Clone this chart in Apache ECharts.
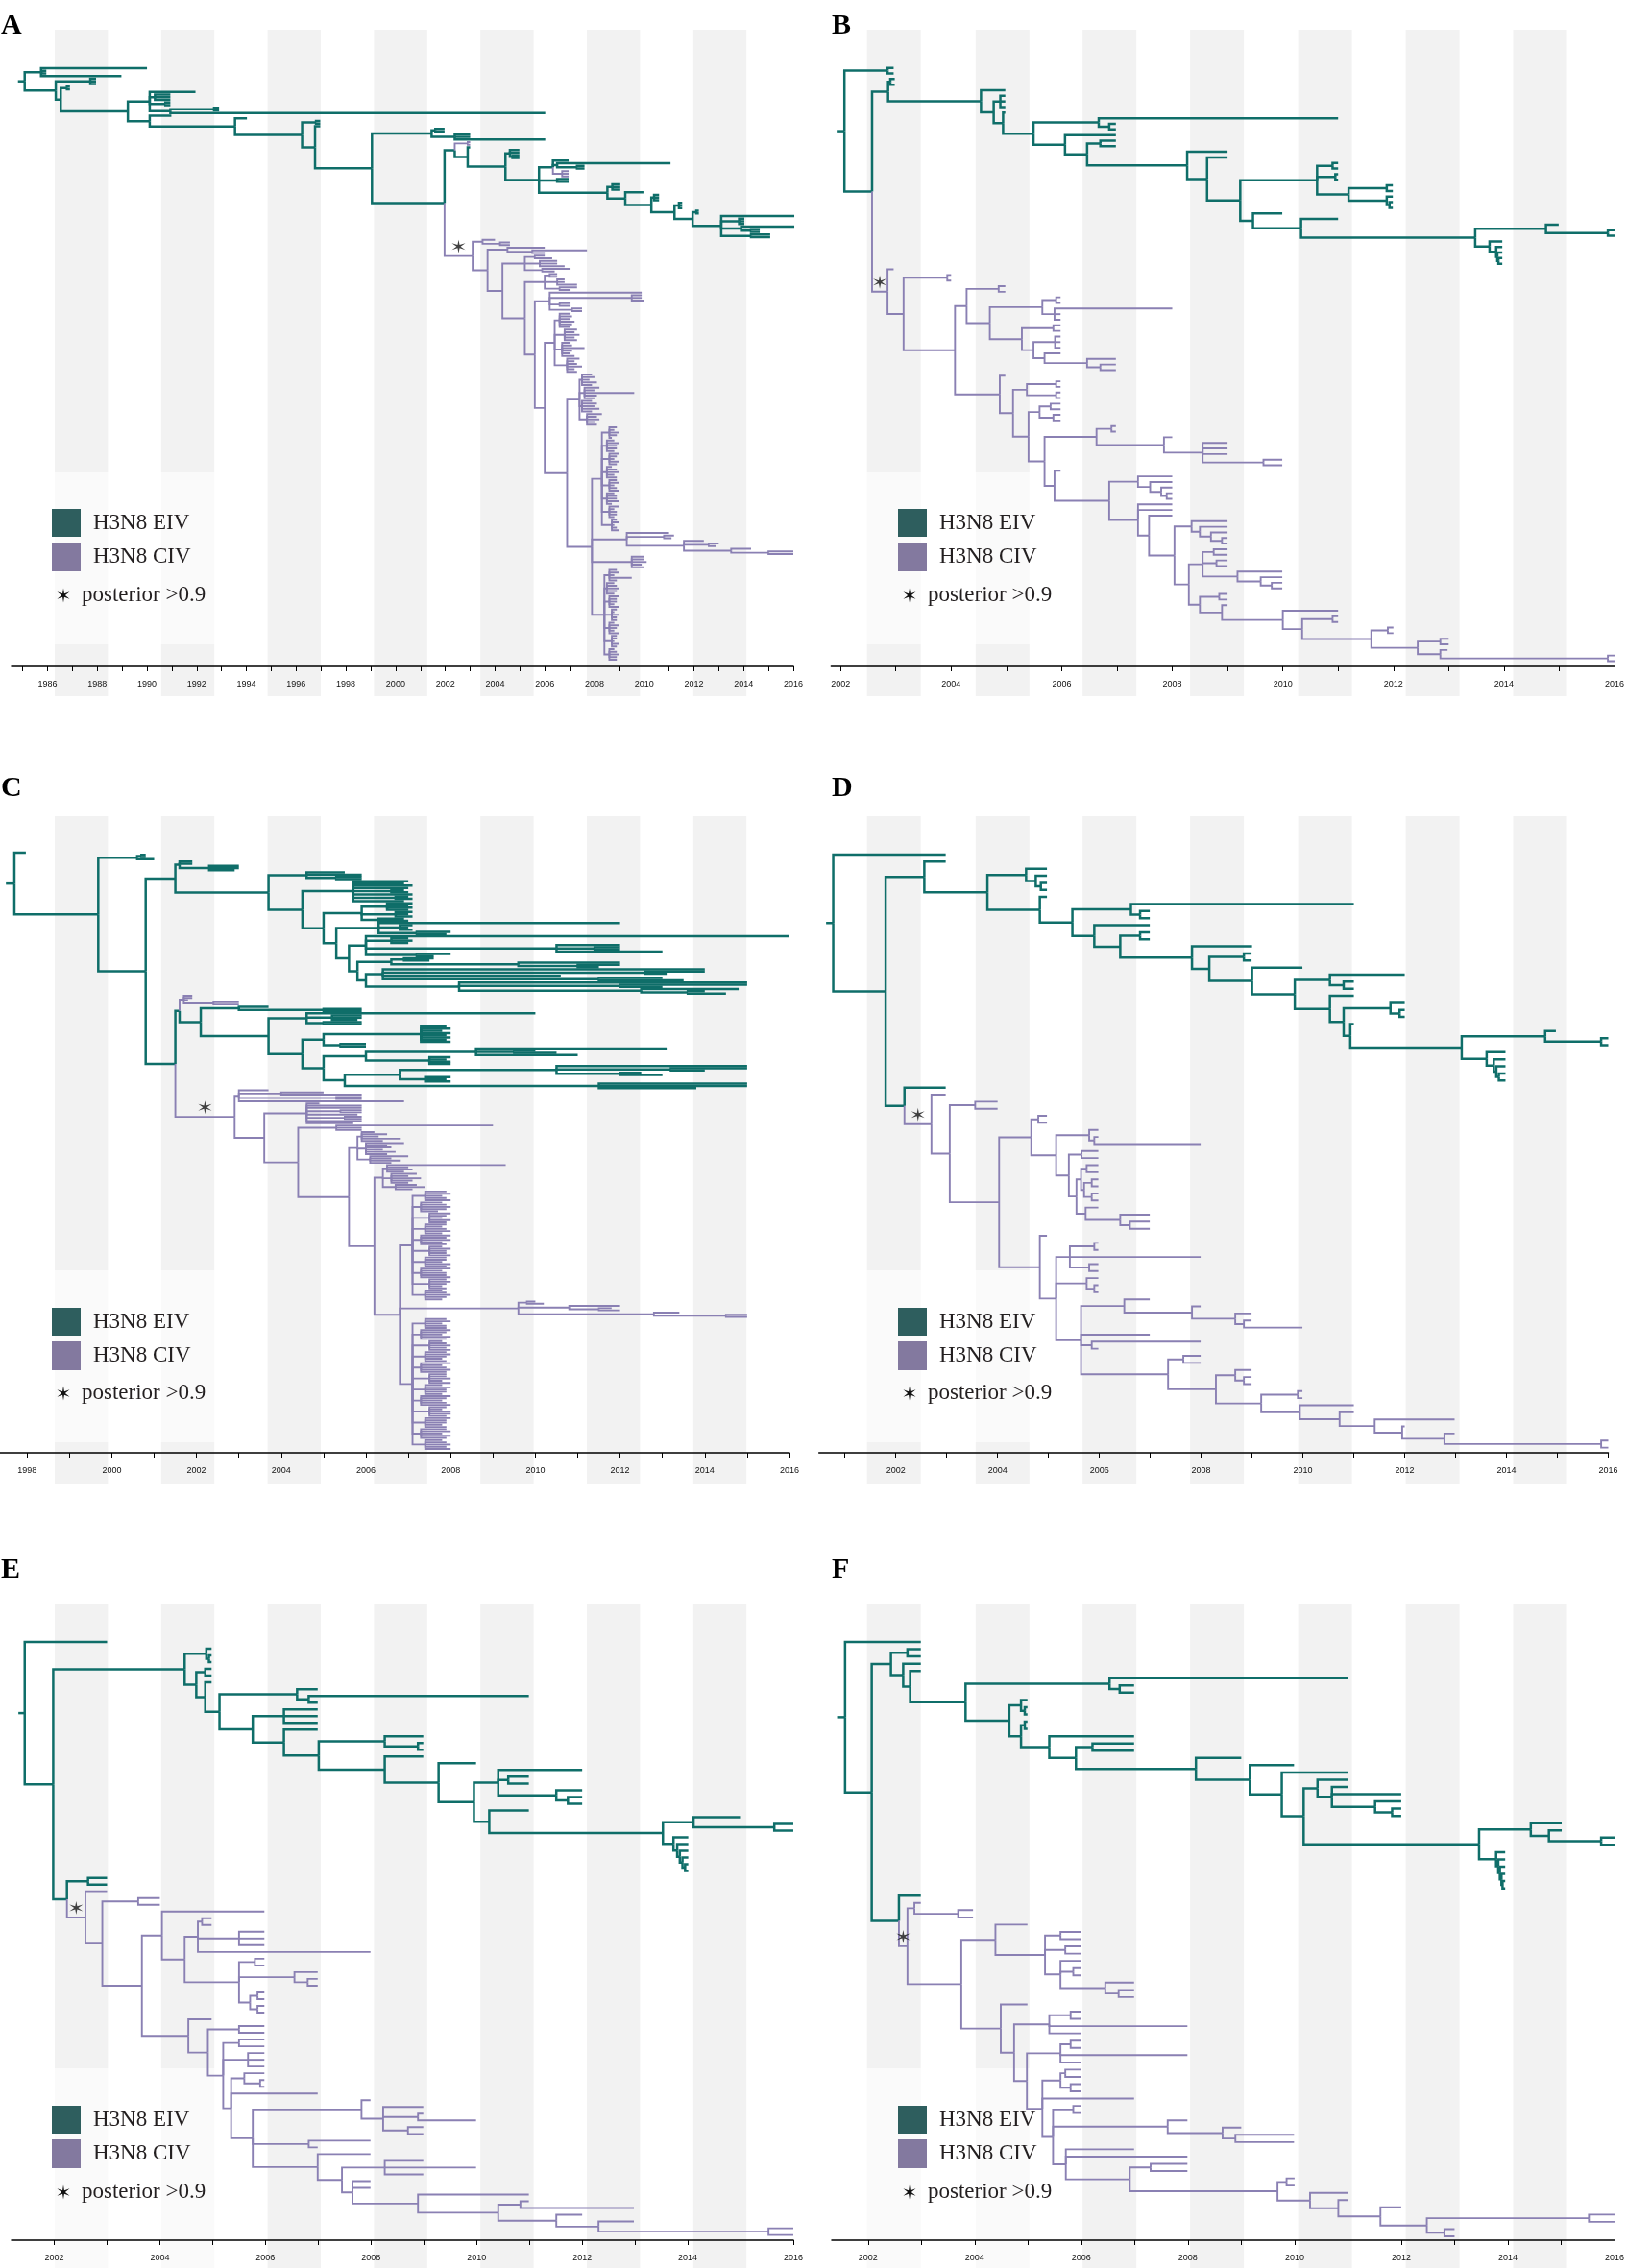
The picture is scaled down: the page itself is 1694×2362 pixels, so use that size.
<!DOCTYPE html>
<html><head><meta charset="utf-8">
<script src="https://cdn.jsdelivr.net/npm/echarts@6.0.0/dist/echarts.min.js"></script>
<style>
html,body{margin:0;padding:0;background:#fff}
body{width:1694px;height:2362px;position:relative;overflow:hidden}
.pn{position:absolute;overflow:hidden}
</style></head><body>
<div id="pA" class="pn"></div><div id="pB" class="pn"></div>
<div id="pC" class="pn"></div><div id="pD" class="pn"></div>
<div id="pE" class="pn"></div><div id="pF" class="pn"></div>
<script>
// ---------------- DATA ----------------
// Trees: "(children)date" = internal node with its date (decimal year); bare number = tip date.
// prefix "c" = H3N8 CIV lineage from that branch on; suffix "*" = posterior > 0.9 on that branch.
const PANEL_LETTERS = ['A','B','C','D','E','F'];
const LEGEND_LABELS = ['H3N8 EIV','H3N8 CIV'];
const STAR_LABEL = 'posterior >0.9';
const ROOT_START = {A:1984.81, B:2001.93, C:1997.5, D:2000.63, E:2001.32, F:2001.42};

const TICKS_A = [1985,1986,1987,1988,1989,1990,1991,1992,1993,1994,1995,1996,1997,1998,1999,2000,2001,2002,2003,2004,2005,2006,2007,2008,2009,2010,2011,2012,2013,2014,2015,2016];
const LABELS_A = [1986,1988,1990,1992,1994,1996,1998,2000,2002,2004,2006,2008,2010,2012,2014,2016];
const TICKS_B = [2002,2003,2004,2005,2006,2007,2008,2009,2010,2011,2012,2013,2014,2015,2016];
const LABELS_B = [2002,2004,2006,2008,2010,2012,2014,2016];
const TICKS_C = [1998,1999,2000,2001,2002,2003,2004,2005,2006,2007,2008,2009,2010,2011,2012,2013,2014,2015,2016];
const LABELS_C = [1998,2000,2002,2004,2006,2008,2010,2012,2014,2016];
const TICKS_D = [2001,2002,2003,2004,2005,2006,2007,2008,2009,2010,2011,2012,2013,2014,2015,2016];
const LABELS_D = [2002,2004,2006,2008,2010,2012,2014,2016];
const TICKS_E = [2002,2003,2004,2005,2006,2007,2008,2009,2010,2011,2012,2013,2014,2015,2016];
const LABELS_E = [2002,2004,2006,2008,2010,2012,2014,2016];
const TICKS_F = [2002,2003,2004,2005,2006,2007,2008,2009,2010,2011,2012,2013,2014,2015,2016];
const LABELS_F = [2002,2004,2006,2008,2010,2012,2014,2016];

const BIG1_A = `(2008.9,2008.8,2009.0,2008.9,2008.7)2008.6,(2008.8,2009.0,2008.9,2008.9,2008.8)2008.5,
(2009.0,2008.9,2008.8,2009.0,2008.9)2008.6,(2008.7,2008.9,2009.0,2008.8,2008.9)2008.5,
(2008.9,2009.0,2008.8,2008.9,2009.0)2008.6,(2008.8,2008.9,2008.9,2009.0,2008.7)2008.5,
(2009.0,2008.8,2008.9,2008.9,2008.8)2008.6,(2008.9,2009.0,2008.8,2008.9,2009.0)2008.7`;
const BIG2_A = `(2008.9,2009.0,2008.8,2009.5,2008.9)2008.6,(2008.8,2008.9,2009.0,2008.9,2008.8)2008.5,
(2009.0,2008.9,2008.9,2008.8,2009.0)2008.6,(2008.9,2008.8,2009.0,2008.9,2008.9)2008.7,
(2008.8,2009.0,2008.9,2008.8,2009.0)2008.6,(2008.9,2008.9,2008.8,2009.0,2008.9)2008.7,
(2008.8,2008.9,2009.0,2008.9,2008.9)2008.6`;
const BLOCK1_A = `(2007.0,2007.1,2007.0,2007.2,2007.1,2007.0)2006.6,(2007.3,2007.2,2007.4,2007.2,2007.3)2006.8,
(2007.0,2007.1,2007.6,2007.1,2007.0,2007.2)2006.7,(2007.4,2007.2,2007.3,2007.5,2007.2,2007.3)2006.9`;
const BLOCK2_A = `(2007.9,2008.0,2007.8,2008.1,2007.9)2007.5,(2008.2,2008.0,2009.6,2008.1,2008.0)2007.6,
(2007.9,2008.1,2008.0,2008.2,2007.9)2007.5,(2008.3,2008.1,2008.2,2008.0,2008.1)2007.7`;

const CIV_A = `c(
 (2004.0,(2004.6,2004.6)2004.2)2003.5,
 (
  (2006.0,(2007.7,2006.0)2005.5)2004.5,
  (
   ((2006.0,2006.3)2005.6,(2006.5,2006.5,2006.8)2005.8,(2007.0,2006.4)2005.9)2005.2,
   (
    ((2006.5,2006.5)2006.2,(2006.8,2006.8,2007.3)2006.5,(2007.3,2007.0)2006.6)2006.0,
    (
     (2009.9,(2009.9,2009.9,2010.0)2009.5,(2007.0,2007.0)2006.6,(2007.5,2007.5)2007.1)2006.2,
     (
      (${BLOCK1_A})2006.4,
      (
       (${BLOCK2_A})2007.4,
       (
        (${BIG1_A})2008.3,
        (2011.0,(2011.2,2011.1)2010.8,(2012.4,(2013.0,2012.9)2012.6,(2014.3,(2016.0,2016.0)2015.0)2013.5)2011.6)2009.3,
        (2010.0,2010.0,2010.1,2009.9,2010.0)2009.5,
        (${BIG2_A})2008.4
       )2007.9
      )2006.9
     )2006.0
    )2005.6
   )2005.2
  )2004.3
 )2003.7
)2003.1*`;

const TREE_A = `(
 (1990.0,(1985.95,1985.95)1985.8,1988.97)1985.74,
 (
  (1987.95,1987.95,1987.95)1987.72,
  (
   (1986.9,1986.9)1986.78,
   (
    (1991.95,(1990.94,1990.94,1990.94)1990.32,(1990.94,1990.94)1990.74,((1992.9,1992.9)1992.7,2006.02)1990.94)1990.11,
    (
     1990.98,
     (
      1994.02,
      (
       (1996.97,1996.97)1996.8,
       (
        1996.97,
        (
         ((2001.97,2001.97)2001.6,(2003.0,2003.0,2006.02)2002.38)2001.45,
         (
          (
           c(2003.0,2003.0)2002.9,
           (
            2003.0,
            (
             (2004.98,2004.98,(2004.98,2004.98)2004.7)2004.6,
             (
              (2006.96,(2011.06,(2007.6,2007.6)2007.3)2006.5,c(2006.96,2006.96,2006.96)2006.7)2006.33,
              (2006.96,2006.96)2006.5,
              (
               (2009.04,2009.04,2009.04)2008.72,
               (
                2009.97,
                (
                 (2010.6,2010.6,2010.6)2010.4,
                 (
                  (2011.53,2011.53,2011.53)2011.4,
                  (
                   (2012.2,2012.2)2012.1,
                   (2016.04,(2014.03,2014.03,2014.03)2013.82,(2016.04,(2014.65,2014.65)2014.3)2013.9,(2015.07,2015.07)2014.3)2013.1
                  )2011.95
                 )2011.22
                )2010.29
               )2009.24
              )2008.52
             )2005.77
            )2004.42
           )2002.9
          )2002.38,
          ${CIV_A}
         )2001.97
        )1999.05
       )1996.76
      )1996.24
     )1993.54
    )1990.11
   )1989.23
  )1986.53
 )1986.33
)1985.08`;

const TREE_B = `(
 (2002.96,2002.96)2002.85,
 (
  (
   (2002.98,2002.98)2002.9,
   (
    2004.98,
    (
     (2004.98,2004.98,2004.98)2004.89,
     (
      2004.98,
      (
       (2011.0,(2006.98,2006.98)2006.86)2006.67,
       (
        2006.98,
        (
         (2006.98,2006.98)2006.7,
         (
          2009.0,
          (
           2009.0,
           (
            (
             (2011.0,2011.0)2010.9,
             (2011.0,2011.0)2010.95,
             ((2011.99,2011.99)2011.88,(2011.99,(2011.99,2011.99)2011.93)2011.88)2011.19
            )2010.62,
            (
             2009.99,
             (
              2011.0,
              (
               (2014.99,(2016.0,2016.0)2015.88)2014.76,
               (2013.97,(2013.97,(2013.97,(2013.97,2013.97)2013.9)2013.88)2013.86)2013.74
              )2013.48
             )2010.33
            )2009.46
           )2009.23
          )2008.63
         )2008.27
        )2006.46
       )2006.06
      )2005.49
     )2004.94
    )2004.77
   )2004.54
  )2002.86,
  c(
   2002.96,
   (
    (2004.0,2004.0)2003.93,
    (
     (
      (2004.98,2004.98)2004.86,
      (
       ((2005.98,2005.98)2005.9,(2008.0,2005.98,2005.98)2005.87)2005.65,
       (
        (2005.98,2005.98)2005.85,
        ((2005.98,2005.98,2005.98)2005.88,(2005.98,(2006.98,(2006.98,2006.98)2006.7)2006.46)2005.69)2005.49
       )2005.28
      )2004.7
     )2004.28,
     (
      2004.98,
      (
       ((2005.98,2005.98)2005.9,(2005.98,2005.98)2005.9)2005.37,
       (
        ((2005.98,2005.98)2005.8,(2005.98,2005.98)2005.85)2005.6,
        (
         ((2006.98,2006.98)2006.9,(2008.0,(2009.0,2009.0,2009.0,(2009.99,2009.99)2009.65)2008.55)2007.85)2006.63,
         (
          2005.98,
          (
           (2008.0,(2008.0,(2008.0,(2008.0,2008.0)2007.9)2007.8)2007.6)2007.38,
           (
            2008.0,
            2008.0,
            (
             2008.0,
             (
              (2009.0,(2009.0,(2009.0,(2009.0,2009.0)2008.9)2008.7)2008.5)2008.35,
              (
               ((2009.0,2009.0)2008.75,(2009.0,2009.0)2008.8,(2009.99,(2009.99,(2009.99,2009.99)2009.8)2009.6)2009.18)2008.55,
               (
                (2009.0,2009.0)2008.85,
                (
                 2009.0,
                 (
                  2011.0,
                  (
                   (2011.0,2011.0)2010.9,
                   (
                    (2012.0,2012.0)2011.9,
                    ((2013.0,2013.0)2012.85,(2012.98,(2016.0,2016.0)2015.88)2012.85)2012.44
                   )2011.6
                  )2010.35
                 )2010.0
                )2008.9
               )2008.5
              )2008.3
             )2008.04
            )2007.58
           )2007.38
          )2006.86
         )2005.87
        )2005.69
       )2005.4
      )2005.12
     )2004.88
    )2004.07
   )2003.14
  )2002.85*
 )2002.57
)2002.07`;

const BIGC1 = `(2007.9,2008.0,2007.8,2007.9,2008.0)2007.4,(2007.8,2007.9,2008.0,2007.9,2007.7)2007.3,
(2008.0,2007.9,2007.8,2008.0,2007.9)2007.5,(2007.9,2007.8,2007.9,2008.0,2007.8)2007.4,
(2008.0,2007.9,2008.0,2007.8,2007.9)2007.3,(2007.8,2008.0,2007.9,2007.9,2008.0)2007.5,
(2007.9,2007.9,2007.8,2008.0,2007.9)2007.4,(2008.0,2007.8,2007.9,2007.9,2008.0)2007.3,
(2007.9,2008.0,2007.9,2007.8,2007.9)2007.5,(2007.8,2007.9,2008.0,2007.9,2007.8)2007.4`;
const BIGC2 = `(2007.9,2008.0,2007.8,2007.9,2007.9)2007.4,(2008.0,2007.9,2007.8,2008.0,2007.9)2007.3,
(2007.8,2007.9,2008.0,2007.9,2008.0)2007.5,(2007.9,2008.0,2007.9,2007.8,2007.9)2007.4,
(2008.0,2007.8,2007.9,2008.0,2007.9)2007.3,(2007.9,2007.9,2008.0,2007.8,2008.0)2007.5,
(2007.8,2008.0,2007.9,2007.9,2007.8)2007.4,(2008.0,2007.9,2007.8,2007.9,2008.0)2007.3,
(2007.9,2007.8,2008.0,2008.0,2007.9)2007.5,(2008.0,2007.9,2007.9,2007.8,2007.9)2007.4,
(2007.9,2008.0,2007.8,2008.0,2007.9)2007.3,(2007.8,2007.9,2008.0,2007.9,2008.0)2007.4`;

const CIV_C = `c(
 (2003.7,(2005.0,2005.9)2004.0,(2005.9,2005.9)2005.3,2006.9)2003.0,
 (
  (2004.9,2005.9,2005.9,(2005.9,2005.9)2005.4,2005.8,(2005.9,2005.9)2005.5,2005.9,2005.7)2004.6,
  (
   (2009.0,2005.9,2005.9)2005.3,
   (
    ((2006.2,2006.5,2006.3,2006.8,2006.4)2005.9,(2006.9,2006.5,2006.6,2006.4,2006.7,2006.5)2006.0,(2007.0,2006.6,2006.8,2006.6)2006.1)2005.8,
    (
     ((2009.3,2007.0,2007.1,2006.9)2006.5,(2007.2,2007.0,2007.3,2007.1,2007.0)2006.6,(2007.2,2007.4,2007.1)2006.7)2006.4,
     (
      (${BIGC1})2007.1,
      ((2010.0,2010.2)2009.8,(2012.0,(2011.8,2012.0)2011.5)2010.8,(2013.4,(2015.0,2015.0)2014.5)2012.8)2009.6,
      (${BIGC2})2007.1
     )2006.8
    )2006.2
   )2005.6
  )2004.4
 )2003.6
)2002.9*`;

const TREE_C = `(
 1997.97,
 (
  ((2000.8,2000.8)2000.7,2001.0)2000.6,
  (
   (
    (2001.9,2001.9,(2003.0,2003.0,2002.9)2002.3)2001.6,
    (
     (2005.5,2005.9,(2005.9,2005.9)2005.3)2004.6,
     (
      (2007.0,2006.9,2007.1,2007.0,(2006.9,2007.0)2006.6,2007.1,(2007.0,2007.1)2006.7,2006.9)2005.7,
      (
       ((2007.1,2007.0,2007.1,2007.0)2006.5,(2007.1,2007.0,2007.1)2006.7,(2006.9,2007.0)2006.3)2005.9,
       (
        (2012.0,(2007.1,2007.0,2007.1)2006.8,(2008.0,2007.9)2007.2)2006.3,
        (
         (2016.0,(2007.0,2007.1,2007.0)2006.6,(2012.0,(2012.0,2012.0)2011.4,2013.0)2010.5,(2008.0,2007.6)2007.2)2006.0,
         (
          ((2007.6,2007.5)2006.9,(2012.0,(2012.0,2011.5)2011.0)2009.6)2006.6,
          (
           (2014.0,(2014.0,2013.1)2012.6,2010.6,(2013.0,2013.5)2011.5)2006.4,
           (2015.0,(2015.0,2013.0)2012.0,(2014.8,(2014.0,2014.5)2013.6)2012.5)2008.2
          )2006.0
         )2005.8
        )2005.6
       )2005.3
      )2005.0
     )2004.5
    )2003.7
   )2001.5,
   (
    (
     c(2001.9,2001.9,2001.8,(2003.0,2003.0)2002.4)2001.7,
     (
      (2003.7,(2005.9,2005.9)2005.0)2003.0,
      (
       (2010.0,(2005.9,2005.9,2005.8)2005.2,(2005.9,2005.9)2005.0)2004.6,
       (
        ((2007.9,2008.0,2007.8,2008.0,2007.9,2008.0,2007.9,2008.0)2007.3,(2006.0,2006.0)2005.4)2005.0,
        (
         ((2013.1,(2010.0,2010.5)2009.5,2011.0)2008.6,(2008.0,2007.9,2008.0,2008.0)2007.5)2006.0,
         (
          ((2015.0,(2015.0,2014.0)2013.2,(2012.5,2013.0)2012.0)2010.5,(2008.0,2007.9,2008.0)2007.4)2006.8,
          (2015.0,2015.0,2013.8)2011.5
         )2005.5
        )2005.0
       )2004.5
      )2003.7
     )2002.1
    )2001.6,
    ${CIV_C}
   )2001.5
  )2000.8
 )1999.68
)1997.7`;

const TREE_D = `(
 2002.98,
 (
  (
   2002.98,
   (
    (2004.97,(2004.97,(2004.97,2004.97)2004.85)2004.75)2004.56,
    (
     2004.97,
     (
      (2011.0,(2006.99,2006.99)2006.8)2006.62,
      (
       2006.99,
       (
        (2006.99,2006.99)2006.8,
        (
         2009.0,
         (
          (2008.99,2008.99)2008.84,
          (
           2009.99,
           (
            (2012.0,(2011.0,2011.0)2010.8)2010.53,
            (
             2011.0,
             (
              (2012.0,(2012.0,2012.0)2011.9)2011.72,
              (
               2011.0,
               (
                (2014.97,(2016.0,2016.0)2015.86)2014.76,
                (2013.98,(2013.98,(2013.98,(2013.98,2013.98)2013.85)2013.8)2013.75)2013.61
               )2013.12
              )2010.93
             )2010.8
            )2010.53
           )2009.84
          )2009.0
         )2008.16
        )2007.82
       )2006.41
      )2005.9
     )2005.47
    )2004.83
   )2003.8
  )2002.56,
  (
   2002.98,
   c(
    2002.98,
    (
     (2004.0,2004.0)2003.56,
     (
      (
       (2004.97,2004.97)2004.8,
       (
        (2005.98,(2005.98,2007.99)2005.9)2005.8,
        (
         (2005.98,2005.98)2005.65,
         (
          ((2005.98,2005.98)2005.75,((2005.98,2005.98)2005.85,(2005.98,2005.98)2005.85)2005.7)2005.64,
          (2005.98,(2006.99,(2006.99,2006.99)2006.6)2006.41)2005.73
         )2005.55
        )2005.4
       )2005.15
      )2004.66,
      (
       2004.97,
       (
        ((2005.98,2005.98)2005.9,2007.99,(2005.98,2005.98)2005.8)2005.42,
        (2005.98,(2005.98,2005.98)2005.9)2005.75,
        (
         (2006.99,(2007.99,(2008.99,(2008.99,2009.99)2008.84)2008.67)2007.82)2006.49,
         2006.99,
         (2007.99,2005.98)2005.85,
         (
          (2007.99,2007.99)2007.65,
          (
           (2008.99,(2008.99,2008.99)2008.84)2008.67,
           (
            (2009.99,2009.99)2009.9,
            (
             2011.0,
             (
              2011.0,
              (
               2012.98,
               (
                2012.0,
                (2012.98,(2016.0,2016.0)2015.86)2012.78
               )2011.95
              )2011.41
             )2010.72
            )2009.94
           )2009.18
          )2008.29
         )2007.35
        )2005.64
       )2005.15
      )2004.83
     )2004.03
    )2003.06
   )2002.7*
  )2002.17
 )2001.8
)2000.77`;

const TREE_E = `(
 2003.0,
 (
  (
   (2004.98,(2004.98,2004.98)2004.93)2004.88,
   (
    (2004.98,2004.98)2004.86,
    (
     2004.98,
     (
      (2006.99,(2010.99,2006.99)2006.82)2006.6,
      (
       (2006.99,2006.99,2006.99)2006.35,
       (
        2006.99,
        (
         (2008.99,(2008.99,2008.99)2008.89)2008.26,
         (
          2008.99,
          (
           2009.99,
           (
            (2012.0,(2010.99,2010.99)2010.6,(2012.0,(2012.0,2012.0)2011.73)2011.51)2010.41,
            (
             2010.99,
             (
              (2014.99,(2016.0,2016.0)2015.64)2014.11,
              (2014.01,(2014.01,(2014.01,(2014.01,(2014.01,2014.01)2013.95)2013.9)2013.85)2013.8)2013.73
             )2013.53
            )2010.24
           )2009.95
          )2009.28
         )2008.26
        )2007.01
       )2006.35
      )2005.76
     )2005.13
    )2004.86
   )2004.69
  )2004.47,
  (
   (2003.0,2003.0)2002.64,
   c(
    2003.0,
    (
     (2004.0,2004.0)2003.59,
     (
      (
       2005.98,
       (
        ((2004.98,2004.98)2004.8,(2005.98,2005.98,2005.98)2005.5,2007.99)2004.72,
        (
         (2005.98,2005.98)2005.8,
         (2006.99,(2006.99,2006.99)2006.8)2006.55,
         ((2005.98,2005.98)2005.85,(2005.98,2005.98)2005.85)2005.71
        )2005.5
       )2004.47
      )2004.04,
      (
       2004.98,
       (
        (2005.98,2005.98)2005.5,
        (
         (2005.98,2005.98)2005.5,
         (2005.98,2005.98,2005.98)2005.67,
         (
          (2005.98,(2005.98,2005.98)2005.9)2005.6,
          2006.99,
          (
           (2007.99,(2008.99,(2008.99,2009.99)2008.89,(2008.99,2008.99)2008.7)2008.23)2007.82,
           (2007.99,2006.99)2006.82,
           (
            2007.99,
            (
             (2008.99,2009.99,2008.99)2008.26,
             (
              2007.99,
              2007.99,
              (
               2010.99,
               (
                (2010.99,2012.98)2010.83,
                (
                 2012.0,
                 (2012.98,(2016.0,2016.0)2015.53)2012.31
                )2011.51
               )2010.41
              )2008.89
             )2007.65
            )2007.45
           )2006.99
          )2005.76
         )2005.35
        )2005.2
       )2004.91
      )2004.54
     )2003.66
    )2002.91
   )2002.59*
  )2002.24
 )2001.98
)2001.44`;

const TREE_F = `(
 2002.99,
 (
  (
   (2002.99,2002.99)2002.74,
   (
    2002.99,
    (
     2002.99,
     (
      (2011.0,(2006.99,2006.99)2006.72)2006.53,
      (
       (2004.99,(2004.99,2004.99)2004.94)2004.87,
       (
        (2004.99,2004.99)2004.94,
        (
         2006.99,
         (
          (2006.99,2006.99)2006.21,
          (
           2009.0,
           (
            2009.99,
            (
             2011.0,
             (
              (
               2011.0,
               (2011.0,2012.0,(2012.0,(2012.0,2012.0)2011.83)2011.51)2010.7
              )2010.43,
              (
               (2015.01,(2015.01,(2016.0,2016.0)2015.75)2014.77)2014.43,
               (2013.95,(2013.95,(2013.95,(2013.95,(2013.95,2013.95)2013.9)2013.88)2013.85)2013.82)2013.78
              )2013.46
             )2010.17
            )2009.76
           )2009.16
          )2008.15
         )2005.9
        )2005.4
       )2004.87
      )2004.65
     )2003.83
    )2002.79
   )2002.66
  )2002.43,
  (
   2002.99,
   c(
    (2002.99,(2003.97,2003.97)2003.69)2002.87,
    (
     (
      2004.99,
      (
       (2006.0,2006.0)2005.61,
       (2006.0,2006.0)2005.7,
       (2006.0,(2006.0,2006.0)2005.85,(2006.99,(2006.99,2006.99)2006.7)2006.45)2005.61
      )2005.32
     )2004.39,
     (
      2004.99,
      (
       ((2006.0,2006.0)2005.8,2007.99,2006.0)2005.4,
       (
        ((2006.0,2006.0)2005.8,2007.99,2006.0)2005.61,
        (
         ((2006.0,2006.0)2005.7,(2006.0,2006.0)2005.8)2005.61,
         2006.99,
         (
          (2006.0,2006.0)2005.85,
          (2007.99,(2009.0,(2009.99,2009.99)2008.89)2008.65)2007.62,
          (
           2006.99,
           2007.99,
           (
            (2007.99,2007.99)2007.3,
            (
             (2010.0,2010.0)2009.85,
             (
              2011.0,
              (
               2011.0,
               (
                2012.0,
                ((2016.0,2016.0)2015.52,(2013.0,2013.0)2012.81)2012.48
               )2011.61
              )2010.82
             )2010.29
            )2009.68
           )2006.91
          )2005.71
         )2005.47
        )2005.27
       )2004.98
      )2004.74
     )2004.49
    )2003.75
   )2002.74*
  )2002.58
 )2002.07
)2001.57`;

// ---------------- LAYOUT / STYLE ----------------
const TEAL = '#0f6e69', PURPLE = '#8a80b3', BAND = '#f2f2f2';
const LEG_EIV = '#2e5e5e', LEG_CIV = '#83799f', TXT = '#231f20';
const LAYOUT = {
 A:{left:0,   top:0,    w:839, h:800, x0:1984.55, px0:12,    x1:2016, px1:832,    rowTop:71,   rowBot:687,    axisY:694,  col:0, row:0, tree:TREE_A, ticks:TICKS_A, labels:LABELS_A},
 B:{left:850, top:0,    w:844, h:800, x0:2001.83, px0:865.4, x1:2016, px1:1685.8, rowTop:70.7, rowBot:688.5,  axisY:694,  col:1, row:0, tree:TREE_B, ticks:TICKS_B, labels:LABELS_B},
 C:{left:0,   top:800,  w:839, h:800, x0:1997.36, px0:0,     x1:2016, px1:822,    rowTop:888,  rowBot:1509,   axisY:1513, col:0, row:1, tree:TREE_C, ticks:TICKS_C, labels:LABELS_C},
 D:{left:850, top:800,  w:844, h:800, x0:2000.49, px0:852.7, x1:2016, px1:1674.5, rowTop:890,  rowBot:1507.6, axisY:1513, col:1, row:1, tree:TREE_D, ticks:TICKS_D, labels:LABELS_D},
 E:{left:0,   top:1600, w:839, h:762, x0:2001.19, px0:12,    x1:2016, px1:833,    rowTop:1710, rowBot:2327.6, axisY:2333, col:0, row:2, tree:TREE_E, ticks:TICKS_E, labels:LABELS_E},
 F:{left:850, top:1600, w:844, h:762, x0:2001.32, px0:866,   x1:2016, px1:1685.8, rowTop:1710, rowBot:2329,   axisY:2333, col:1, row:2, tree:TREE_F, ticks:TICKS_F, labels:LABELS_F}
};
const ROWS = [
 {bandTop:31,   bandBot:725,  ovTop:492,  ovBot:671,  eiv:530,  civ:565,  post:620,  letterY:12},
 {bandTop:850,  bandBot:1545, ovTop:1323, ovBot:1502, eiv:1362, civ:1397, post:1451, letterY:806},
 {bandTop:1670, bandBot:2362, ovTop:2154, ovBot:2362, eiv:2193, civ:2228, post:2283, letterY:1620}
];
const COLS = [
 {bands:[57,167.8,278.6,389.4,500.2,611,721.8], bw:55.4, ovL:0, ovR:226, sq:54, txt:97, star:66, ptxt:85, letterX:1},
 {bands:[902.7,1015.8,1127.2,1239.1,1351.6,1463.6,1575.5], bw:56, ovL:850, ovR:1072, sq:935, txt:978, star:947, ptxt:966, letterX:866}
];

function parseTree(str){
  const s = str.replace(/\s+/g,'');
  let i = 0;
  function num(){ const j=i; while(i<s.length && /[0-9.]/.test(s[i])) i++; if(i===j) throw new Error('number expected near '+s.slice(Math.max(0,i-30),i+30)); return parseFloat(s.slice(j,i)); }
  function node(){
    const n = {kids:[], civ:false, star:false};
    if(s[i]==='c'){ n.civ = true; i++; }
    if(s[i]==='('){
      i++; n.kids.push(node());
      while(s[i]===','){ i++; n.kids.push(node()); }
      if(s[i]!==')') throw new Error(') expected near '+s.slice(Math.max(0,i-30),i+30));
      i++;
    }
    n.t = num();
    if(s[i]==='*'){ n.star = true; i++; }
    return n;
  }
  const r = node();
  if(i!==s.length) throw new Error('trailing text '+s.slice(i,i+30));
  return r;
}
function buildTree(str, rootStart){
  const root = parseTree(str);
  let row = 0;
  (function lay(n){
    if(!n.kids.length){ n.y = row++; return; }
    n.kids.forEach(lay);
    n.y = (n.kids[0].y + n.kids[n.kids.length-1].y)/2;
  })(root);
  const eiv=[], civ=[], stars=[];
  (function walk(n, p, isC){
    const c = isC || n.civ;
    const coords = p ? [[p.t,p.y],[p.t,n.y],[n.t,n.y]] : [[rootStart,n.y],[n.t,n.y]];
    (c?civ:eiv).push({coords});
    if(n.star && p) stars.push([(p.t+n.t)/2, n.y]);
    n.kids.forEach(k => walk(k, n, c));
  })(root, null, false);
  return {eiv, civ, stars, n: row};
}
function starPts(cx, cy, R, r, n){
  const pts=[];
  for(let k=0;k<2*n;k++){ const a=-Math.PI/2+k*Math.PI/n, rad=(k%2)?r:R; pts.push([cx+rad*Math.cos(a), cy+rad*Math.sin(a)]); }
  return pts;
}
const STAR_PATH = 'path://M' + starPts(10,10,10,2.6,6).map(p=>p[0].toFixed(2)+' '+p[1].toFixed(2)).join(' L') + ' Z';

function makePanel(key, idx){
  const L = LAYOUT[key], C = COLS[L.col], R = ROWS[L.row];
  const div = document.getElementById('p'+key);
  Object.assign(div.style, {left:L.left+'px', top:L.top+'px', width:L.w+'px', height:L.h+'px'});
  const chart = echarts.init(div, null, {renderer:'canvas', width:L.w, height:L.h});
  const t = buildTree(L.tree, ROOT_START[key]);
  const lx = v => v - L.left, ly = v => v - L.top;
  const g = [];
  C.bands.forEach(b => g.push({type:'rect', silent:true, z:0, shape:{x:lx(b), y:ly(R.bandTop), width:C.bw, height:R.bandBot-R.bandTop}, style:{fill:BAND}}));
  g.push({type:'rect', silent:true, z:1, shape:{x:lx(C.ovL), y:ly(R.ovTop), width:C.ovR-C.ovL, height:R.ovBot-R.ovTop}, style:{fill:'rgba(255,255,255,0.62)'}});
  g.push({type:'text', silent:true, z:20, x:lx(C.letterX), y:ly(R.letterY), style:{text:PANEL_LETTERS[idx], font:'bold 30px "Liberation Serif"', fill:'#000', textVerticalAlign:'top', verticalAlign:'top'}});
  g.push({type:'rect', silent:true, z:20, shape:{x:lx(C.sq), y:ly(R.eiv), width:30, height:29}, style:{fill:LEG_EIV}});
  g.push({type:'rect', silent:true, z:20, shape:{x:lx(C.sq), y:ly(R.civ), width:30, height:30}, style:{fill:LEG_CIV}});
  g.push({type:'text', silent:true, z:20, x:lx(C.txt), y:ly(R.eiv+15), style:{text:LEGEND_LABELS[0], font:'23px "Liberation Serif"', fill:TXT, textVerticalAlign:'middle', verticalAlign:'middle'}});
  g.push({type:'text', silent:true, z:20, x:lx(C.txt), y:ly(R.civ+15), style:{text:LEGEND_LABELS[1], font:'23px "Liberation Serif"', fill:TXT, textVerticalAlign:'middle', verticalAlign:'middle'}});
  g.push({type:'polygon', silent:true, z:20, shape:{points:starPts(lx(C.star), ly(R.post), 7.5, 1.9, 6)}, style:{fill:'#111'}});
  g.push({type:'text', silent:true, z:20, x:lx(C.ptxt), y:ly(R.post), style:{text:STAR_LABEL, font:'23px "Liberation Serif"', fill:TXT, textVerticalAlign:'middle', verticalAlign:'middle'}});

  chart.setOption({
    animation:false,
    grid:{left:lx(L.px0), top:ly(L.rowTop), width:L.px1-L.px0, height:L.rowBot-L.rowTop, containLabel:false},
    xAxis:{type:'value', min:L.x0, max:L.x1, position:'bottom', offset:L.axisY-L.rowBot, z:10,
      axisLine:{show:true, onZero:false, lineStyle:{color:'#000', width:1.5}},
      axisTick:{show:true, customValues:L.ticks, length:5, inside:false, lineStyle:{color:'#000', width:1}},
      axisLabel:{show:true, customValues:L.labels, fontSize:9, fontFamily:'Liberation Sans', color:'#111', margin:14, formatter:v=>String(v)},
      splitLine:{show:false}},
    yAxis:{type:'value', inverse:true, min:0, max:t.n-1, show:false},
    series:[
      {type:'lines', coordinateSystem:'cartesian2d', polyline:true, silent:true, z:10, clip:false,
       lineStyle:{color:TEAL, width:2.5, opacity:1, curveness:0}, data:t.eiv},
      {type:'lines', coordinateSystem:'cartesian2d', polyline:true, silent:true, z:11, clip:false,
       lineStyle:{color:PURPLE, width:1.9, opacity:1, curveness:0}, data:t.civ},
      {type:'scatter', silent:true, z:12, clip:false, data:t.stars, symbol:STAR_PATH, symbolSize:14, symbolOffset:[0,-10], itemStyle:{color:'#111'}}
    ],
    graphic:{elements:g}
  });
}
['A','B','C','D','E','F'].forEach((k,i)=>makePanel(k,i));
</script>
</body></html>
